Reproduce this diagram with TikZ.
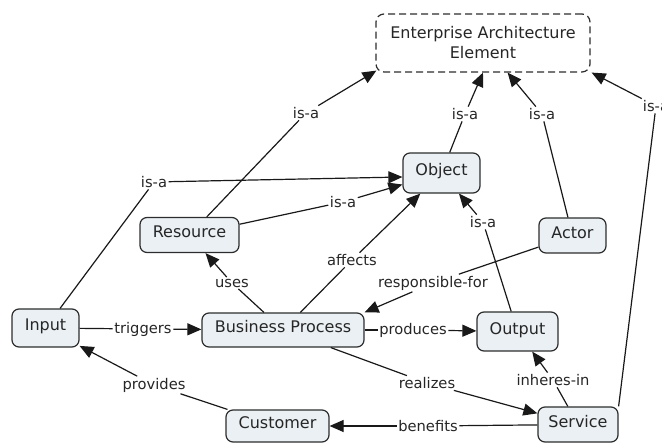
\documentclass[tikz,border=0pt]{standalone}
\usepackage{fontspec}
\setmainfont{DejaVu Sans}
\usetikzlibrary{arrows.meta}
\definecolor{cfill}{RGB}{234,240,244}
\definecolor{cline}{RGB}{45,45,45}
\tikzset{
  concept/.style={draw=cline, fill=cfill, rounded corners=7pt, line width=1.2pt,
    font=\fontsize{16}{19}\selectfont, text=black!85, text height=0.76em, text depth=0.24em, inner sep=0pt},
  topconcept/.style={draw=cline, fill=white, rounded corners=8pt, line width=1.2pt,
    dash pattern=on 7pt off 4pt, font=\fontsize{16}{19}\selectfont, text=black!85, align=center, inner sep=0pt},
  lab/.style={font=\fontsize{14.7}{17}\selectfont, inner sep=1.5pt, text=black!85},
  link/.style={draw=black!90, line width=1.2pt},
  arr/.style={link, -{Triangle[length=14pt,width=12pt]}},
}
\begin{document}
\begin{tikzpicture}[x=1pt,y=-1pt]
\useasboundingbox (0,0) rectangle (662,443);
% concepts
\node[topconcept, minimum width=214pt, minimum height=58pt] (eae) at (483,43) {Enterprise Architecture\\[1pt]Element};
\node[concept, minimum width=77pt, minimum height=40pt] (obj) at (441.5,173) {Object};
\node[concept, minimum width=99pt, minimum height=35pt] (res) at (189.5,235) {Resource};
\node[concept, minimum width=67pt, minimum height=35pt] (act) at (572.5,235.5) {Actor};
\node[concept, minimum width=67pt, minimum height=38pt] (inp) at (45.5,328) {Input};
\node[concept, minimum width=162pt, minimum height=34pt] (bp) at (283,330) {Business Process};
\node[concept, minimum width=81pt, minimum height=39pt] (out) at (517.5,331.5) {Output};
\node[concept, minimum width=103pt, minimum height=32pt] (cus) at (277.5,426) {Customer};
\node[concept, minimum width=80pt, minimum height=35pt] (ser) at (578,424.5) {Service};
% labels
\node[lab] (l1) at (306,113) {is-a};
\node[lab] (l2) at (465,114) {is-a};
\node[lab] (l3) at (542,114) {is-a};
\node[lab] (l4) at (656,106) {is-a};
\node[lab] (l5) at (154,182) {is-a};
\node[lab] (l6) at (343,202) {is-a};
\node[lab] (l7) at (483,222) {is-a};
\node[lab] (l8) at (352,260) {affects};
\node[lab] (l9) at (232,283) {uses};
\node[lab] (l10) at (433,283) {responsible-for};
\node[lab] (l11) at (143,329) {triggers};
\node[lab] (l12) at (413,330) {produces};
\node[lab] (l13) at (154,385) {provides};
\node[lab] (l14) at (427,383) {realizes};
\node[lab] (l15) at (553,380) {inheres-in};
\node[lab] (l16) at (428,426) {benefits};
% links
\draw[link] (res) -- (l1); \draw[arr] (l1) -- ([xshift=1pt,yshift=2pt]eae.south west);
\draw[link] (obj) -- (l2); \draw[arr] (l2) -- (eae.south);
\draw[link] (act) -- (l3); \draw[arr] (l3) -- (eae);
\draw[link] (ser.north east) -- (l4); \draw[arr] (l4) -- ([xshift=1pt]eae.south east);
\draw[link] (inp) -- (l5); \draw[arr] (l5) -- ([yshift=-4pt]obj.west);
\draw[link] (res) -- (l6); \draw[arr] (l6) -- (obj);
\draw[link] (out) -- (l7); \draw[arr] (l7) -- (obj);
\draw[link] (bp) -- (l8); \draw[arr] (l8) -- (obj);
\draw[link] (bp) -- (l9); \draw[arr] (l9) -- (res);
\draw[link] (act) -- (l10); \draw[arr] (l10) -- (bp.north east);
\draw[link] (inp) -- (l11); \draw[arr] (l11) -- (bp);
\draw[link] (bp) -- (l12); \draw[arr] (l12) -- (out);
\draw[link] (cus) -- (l13); \draw[arr] (l13) -- (inp);
\draw[link] (bp) -- (l14); \draw[arr] (l14) -- (ser);
\draw[link] (ser) -- (l15); \draw[arr] (l15) -- (out);
\draw[link] (ser) -- (l16); \draw[arr] (l16) -- (cus);
\end{tikzpicture}
\end{document}
